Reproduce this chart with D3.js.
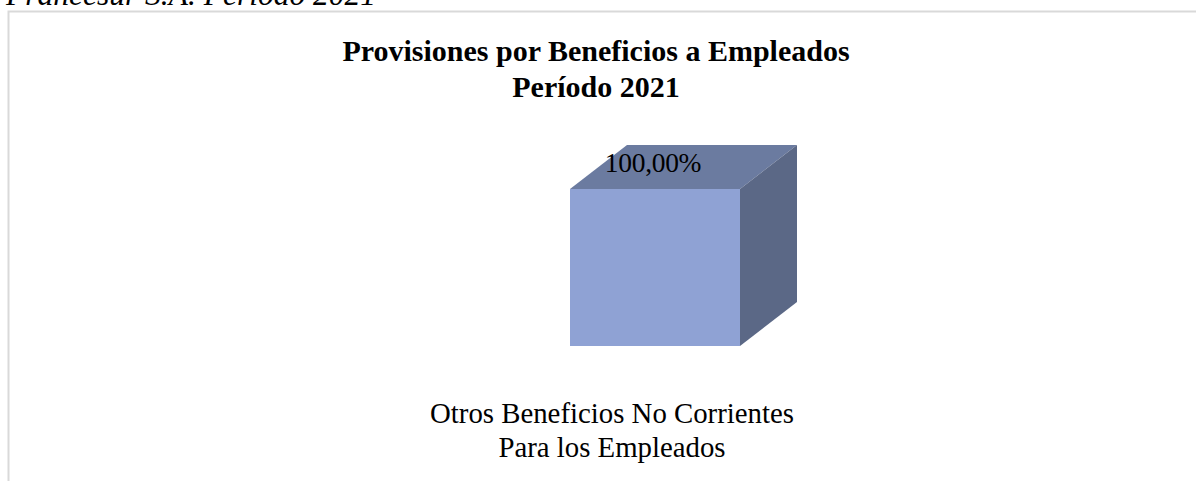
<!DOCTYPE html>
<html>
<head>
<meta charset="utf-8">
<script src="https://cdn.jsdelivr.net/npm/d3@7"></script>
<style>
  body { margin: 0; background: #fff; }
  svg { display: block; font-family: "Liberation Serif", "Times New Roman", serif; }
</style>
</head>
<body>
<div id="chart"></div>
<script>
// data
var categories = ['Otros Beneficios No Corrientes|Para los Empleados']
var values = [1.0]
var titleLines = ['Provisiones por Beneficios a Empleados', 'Período 2021']
var caption = 'Francesur S.A. Periodo 2021'

var W = 1196, H = 481
var depth = { dx: 57, dy: -44 }

var svg = d3.select('#chart')
  .append('svg')
  .attr('width', W)
  .attr('height', H)

// caption from the document, mostly cut off at the top
svg.append('text')
  .attr('x', 6)
  .attr('y', 5)
  .style('font-style', 'italic')
  .style('font-size', '31.5px')
  .text(caption)

// chart frame
svg.append('rect')
  .attr('x', 8.5)
  .attr('y', 11.5)
  .attr('width', W + 20)
  .attr('height', H + 20)
  .attr('fill', 'none')
  .attr('stroke', '#d9d9d9')
  .attr('stroke-width', 2)

svg.append('g')
  .selectAll('text')
  .data(titleLines)
  .enter()
  .append('text')
  .attr('x', 596)
  .attr('y', (d, i) => 61 + i * 36)
  .attr('text-anchor', 'middle')
  .style('font-weight', 'bold')
  .style('font-size', '30px')
  .text(d => d)

var x = d3.scaleBand()
  .domain(categories)
  .range([400, 910])
  .padding(0.5)

var y = d3.scaleLinear()
  .domain([0, 1])
  .range([346, 189])

var bars = svg.append('g')
  .selectAll('g')
  .data(values.map((v, i) => ({ cat: categories[i], v: v })))
  .enter()
  .append('g')

// top face
bars.append('path')
  .attr('fill', '#6b7ba0')
  .attr('d', d => {
    var x0 = x(d.cat), x1 = x0 + x.bandwidth(), yt = y(d.v)
    return `M${x0},${yt}L${x0 + depth.dx},${yt + depth.dy}L${x1 + depth.dx},${yt + depth.dy}L${x1},${yt}Z`
  })

// side face
bars.append('path')
  .attr('fill', '#5b6886')
  .attr('d', d => {
    var x1 = x(d.cat) + x.bandwidth(), yt = y(d.v), yb = y(0)
    return `M${x1},${yt}L${x1 + depth.dx},${yt + depth.dy}L${x1 + depth.dx},${yb + depth.dy}L${x1},${yb}Z`
  })

// front face
bars.append('rect')
  .attr('fill', '#8fa2d4')
  .attr('x', d => x(d.cat))
  .attr('y', d => y(d.v))
  .attr('width', x.bandwidth())
  .attr('height', d => y(0) - y(d.v))

bars.append('text')
  .attr('x', d => x(d.cat) + x.bandwidth() / 2 - 2)
  .attr('y', d => y(d.v) - 17)
  .attr('text-anchor', 'middle')
  .style('font-size', '27.5px')
  .style('letter-spacing', '-0.3px')
  .text(d => d3.format('.2f')(d.v * 100).replace('.', ',') + '%')

// category labels
bars.append('g')
  .selectAll('text')
  .data(d => d.cat.split('|').map(t => ({ t: t, cx: x(d.cat) + x.bandwidth() / 2 - 43 })))
  .enter()
  .append('text')
  .attr('x', d => d.cx)
  .attr('y', (d, i) => 423 + i * 34)
  .attr('text-anchor', 'middle')
  .style('font-size', '28.8px')
  .text(d => d.t)
</script>
</body>
</html>
